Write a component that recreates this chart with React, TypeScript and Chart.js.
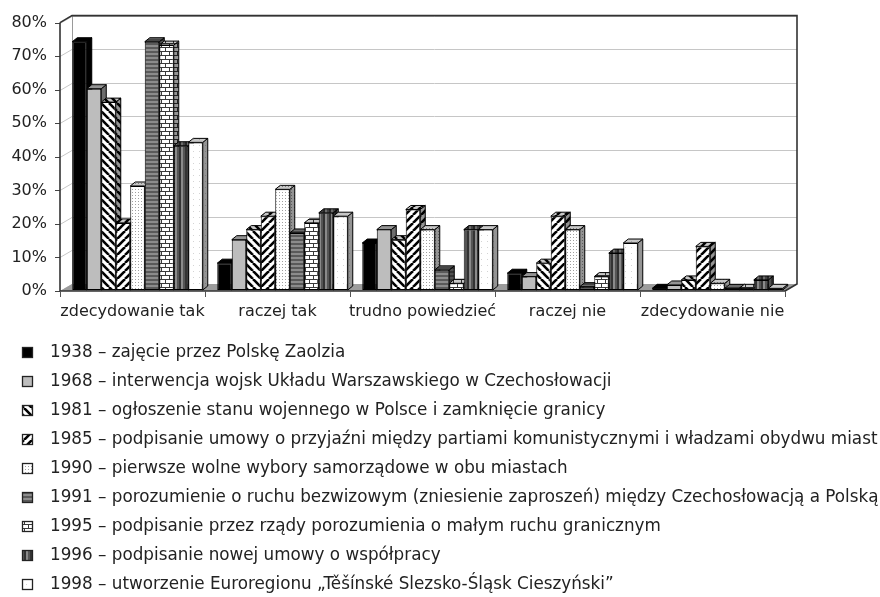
import React, { useEffect, useRef } from 'react';
import { Chart, registerables } from 'chart.js';

Chart.register(...registerables);

const categories = ['zdecydowanie tak', 'raczej tak', 'trudno powiedzieć', 'raczej nie', 'zdecydowanie nie'];

const seriesLabels = [
  '1938 – zajęcie przez Polskę Zaolzia',
  '1968 – interwencja wojsk Układu Warszawskiego w Czechosłowacji',
  '1981 – ogłoszenie stanu wojennego w Polsce i zamknięcie granicy',
  '1985 – podpisanie umowy o przyjaźni między partiami komunistycznymi i władzami obydwu miast',
  '1990 – pierwsze wolne wybory samorządowe w obu miastach',
  '1991 – porozumienie o ruchu bezwizowym (zniesienie zaproszeń) między Czechosłowacją a Polską',
  '1995 – podpisanie przez rządy porozumienia o małym ruchu granicznym',
  '1996 – podpisanie nowej umowy o współpracy',
  '1998 – utworzenie Euroregionu „Těšínské Slezsko-Śląsk Cieszyński”',
];

const s1938 = [74, 8, 14, 5, 0.5];
const s1968 = [60, 15, 18, 4, 1.5];
const s1981 = [56, 18, 15, 8, 3];
const s1985 = [20, 22, 24, 22, 13];
const s1990 = [31, 30, 18, 18, 2];
const s1991 = [74, 17, 6, 1, 0.5];
const s1995 = [73, 20, 2, 4, 0.5];
const s1996 = [43, 23, 18, 11, 3];
const s1998 = [44, 22, 18, 14, 0.5];

const seriesValues = [s1938, s1968, s1981, s1985, s1990, s1991, s1995, s1996, s1998];
const patternKinds = ['black', 'grey', 'bslash', 'slash', 'dots', 'hbands', 'brick', 'vstripe', 'white'];

const yTickValues = [0, 10, 20, 30, 40, 50, 60, 70, 80];

const FONT = '"DejaVu Sans", sans-serif';
const DX = 12; // wall depth
const DY = 7;
const BDX = 5; // bar depth
const BDY = 4;

function makeFill(kind: string): CanvasPattern | string {
  const c = document.createElement('canvas');
  const g = c.getContext('2d')!;
  if (kind === 'black') return '#000000';
  if (kind === 'grey') return '#bdbdbd';
  if (kind === 'bslash' || kind === 'slash') {
    c.width = 8; c.height = 8;
    g.fillStyle = '#ffffff'; g.fillRect(0, 0, 8, 8);
    g.strokeStyle = '#000000'; g.lineWidth = 2.6;
    for (const o of [-8, 0, 8]) {
      g.beginPath();
      if (kind === 'bslash') { g.moveTo(o, 0); g.lineTo(o + 8, 8); }
      else { g.moveTo(o, 8); g.lineTo(o + 8, 0); }
      g.stroke();
    }
  } else if (kind === 'dots') {
    c.width = 3; c.height = 3;
    g.fillStyle = '#ffffff'; g.fillRect(0, 0, 3, 3);
    g.fillStyle = '#a0a0a0'; g.fillRect(1, 1, 1, 1);
  } else if (kind === 'hbands') {
    c.width = 4; c.height = 4;
    g.fillStyle = '#8c8c8c'; g.fillRect(0, 0, 4, 4);
    g.fillStyle = '#5a5a5a'; g.fillRect(0, 0, 4, 2);
  } else if (kind === 'brick') {
    c.width = 8; c.height = 8;
    g.fillStyle = '#ffffff'; g.fillRect(0, 0, 8, 8);
    g.fillStyle = '#3a3a3a';
    g.fillRect(0, 0, 8, 1); g.fillRect(0, 4, 8, 1);
    g.fillRect(0, 0, 1, 4); g.fillRect(4, 4, 1, 4);
  } else if (kind === 'vstripe') {
    c.width = 6; c.height = 1;
    g.fillStyle = '#333333'; g.fillRect(0, 0, 2, 1);
    g.fillStyle = '#8a8a8a'; g.fillRect(2, 0, 2, 1);
    g.fillStyle = '#555555'; g.fillRect(4, 0, 2, 1);
  } else {
    c.width = 6; c.height = 6;
    g.fillStyle = '#ffffff'; g.fillRect(0, 0, 6, 6);
    g.fillStyle = '#d4d4d4'; g.fillRect(2, 2, 1, 1);
  }
  return g.createPattern(c, 'repeat')!;
}

function poly(ctx: CanvasRenderingContext2D, pts: number[][]) {
  ctx.beginPath();
  ctx.moveTo(pts[0][0], pts[0][1]);
  for (let i = 1; i < pts.length; i++) ctx.lineTo(pts[i][0], pts[i][1]);
  ctx.closePath();
}

export default function App() {
  const ref = useRef<HTMLCanvasElement>(null);

  useEffect(() => {
    const canvas = ref.current!;
    const fills = patternKinds.map((k) => makeFill(k));

    const drawFaces = (ctx: CanvasRenderingContext2D, meta: any, fill: any) => {
      meta.data.forEach((el: any) => {
        const p = el.getProps(['x', 'y', 'base', 'width'], true);
        const L = p.x - p.width / 2;
        const R = p.x + p.width / 2;
        const T = p.y;
        const B = p.base;
        ctx.save();
        ctx.lineWidth = 1;
        ctx.strokeStyle = '#000000';
        poly(ctx, [[R, T], [R + BDX, T - BDY], [R + BDX, B - BDY], [R, B]]);
        ctx.fillStyle = fill; ctx.fill();
        ctx.fillStyle = 'rgba(0,0,0,0.42)'; ctx.fill();
        ctx.stroke();
        poly(ctx, [[L, T], [L + BDX, T - BDY], [R + BDX, T - BDY], [R, T]]);
        ctx.fillStyle = fill; ctx.fill();
        ctx.fillStyle = 'rgba(0,0,0,0.22)'; ctx.fill();
        ctx.stroke();
        ctx.restore();
      });
    };

    const threeD = {
      id: 'threeD',
      beforeDatasetsDraw(chart: any) {
        const ctx: CanvasRenderingContext2D = chart.ctx;
        const { left, right, top, bottom } = chart.chartArea;
        const y = chart.scales.y;
        const x = chart.scales.x;
        ctx.save();
        ctx.fillStyle = '#ffffff';
        poly(ctx, [[left + DX, top - DY], [right + DX, top - DY], [right + DX, bottom - DY], [left + DX, bottom - DY]]);
        ctx.fill();
        ctx.lineWidth = 1;
        yTickValues.forEach((v) => {
          const py = Math.round(y.getPixelForValue(v)) + 0.5;
          ctx.strokeStyle = '#c6c6c6';
          ctx.beginPath();
          ctx.moveTo(left + DX, py - DY);
          ctx.lineTo(right + DX, py - DY);
          ctx.stroke();
          ctx.beginPath();
          ctx.moveTo(left, py);
          ctx.lineTo(left + DX, py - DY);
          ctx.stroke();
          ctx.strokeStyle = '#444444';
          ctx.beginPath();
          ctx.moveTo(left - 5, py);
          ctx.lineTo(left, py);
          ctx.stroke();
        });
        ctx.fillStyle = '#9c9c9c';
        poly(ctx, [[left, bottom], [right, bottom], [right + DX, bottom - DY], [left + DX, bottom - DY]]);
        ctx.fill();
        ctx.strokeStyle = '#9a9a9a';
        ctx.beginPath();
        ctx.moveTo(left + DX + 0.5, top - DY);
        ctx.lineTo(left + DX + 0.5, bottom - DY);
        ctx.stroke();
        ctx.strokeStyle = '#333333';
        ctx.lineWidth = 1.6;
        ctx.beginPath();
        ctx.moveTo(left, top);
        ctx.lineTo(left + DX, top - DY);
        ctx.lineTo(right + DX, top - DY);
        ctx.lineTo(right + DX, bottom - DY);
        ctx.lineTo(right, bottom);
        ctx.stroke();
        ctx.beginPath();
        ctx.moveTo(left, top);
        ctx.lineTo(left, bottom);
        ctx.lineTo(right, bottom);
        ctx.stroke();
        ctx.lineWidth = 1;
        ctx.strokeStyle = '#555555';
        const n = categories.length;
        const step = x.getPixelForValue(1) - x.getPixelForValue(0);
        for (let k = 0; k <= n; k++) {
          const px = Math.round(x.getPixelForValue(0) - step / 2 + k * step) + 0.5;
          ctx.beginPath();
          ctx.moveTo(px, bottom);
          ctx.lineTo(px, bottom + 6);
          ctx.stroke();
        }
        ctx.restore();

        // bars, drawn series by series from left to right with their 3D faces
        ctx.save();
        ctx.translate(5, -1);
        for (let i = 0; i < chart.data.datasets.length; i++) {
          const meta = chart.getDatasetMeta(i);
          if (!meta.visible) continue;
          meta.controller.draw();
          drawFaces(ctx, meta, fills[i]);
        }
        ctx.restore();
        return false;
      },
      afterDraw(chart: any) {
        const ctx: CanvasRenderingContext2D = chart.ctx;
        ctx.save();
        ctx.font = `16.8px ${FONT}`;
        ctx.textBaseline = 'middle';
        ctx.textAlign = 'left';
        chart.data.datasets.forEach((ds: any, i: number) => {
          const cy = 353 + i * 29;
          ctx.fillStyle = fills[i] as any;
          ctx.fillRect(22, cy - 6, 11, 11);
          ctx.strokeStyle = '#222222';
          ctx.lineWidth = 1.3;
          ctx.strokeRect(22.5, cy - 5.5, 10, 10);
          ctx.fillStyle = '#222222';
          ctx.fillText(ds.label, 50, cy);
        });
        ctx.restore();
      },
    };

    const chart = new Chart(canvas, {
      type: 'bar',
      data: {
        labels: categories,
        datasets: seriesValues.map((vals, i) => ({
          label: seriesLabels[i],
          data: vals,
          backgroundColor: fills[i] as any,
          borderColor: '#000000',
          borderWidth: 1,
          borderSkipped: false,
          categoryPercentage: 0.9,
          barPercentage: 1.0,
        })) as any,
      },
      options: {
        animation: false,
        responsive: true,
        maintainAspectRatio: false,
        layout: { padding: { left: 0, top: 20, right: 95, bottom: 270 } },
        plugins: {
          legend: { display: false },
          tooltip: { enabled: false },
        },
        scales: {
          x: {
            grid: { display: false, drawTicks: false },
            border: { display: false },
            ticks: {
              color: '#222222',
              font: { family: FONT, size: 16 },
              maxRotation: 0,
              minRotation: 0,
              autoSkip: false,
              padding: 11,
            },
            afterFit: (s: any) => { s.height = 36; },
          },
          y: {
            min: 0,
            max: 80,
            afterBuildTicks: (s: any) => { s.ticks = yTickValues.map((v) => ({ value: v })); },
            grid: { display: false, drawTicks: false },
            border: { display: false },
            ticks: {
              color: '#222222',
              font: { family: FONT, size: 16 },
              padding: 13,
              callback: (v: any) => `${v}%`,
            },
            afterFit: (s: any) => { s.width = 60; },
          },
        },
      },
      plugins: [threeD],
    });
    return () => chart.destroy();
  }, []);

  return (
    <div style={{ position: 'fixed', left: 0, top: 0, width: 880, height: 597, background: '#ffffff' }}>
      <canvas ref={ref} />
    </div>
  );
}
